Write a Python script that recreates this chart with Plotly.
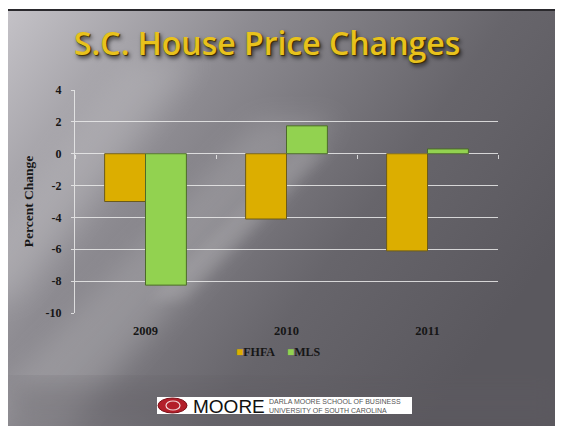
import base64
import plotly.graph_objects as go

# ---- data ----
years = ["2009", "2010", "2011"]
fhfa = [-3.0, -4.1, -6.1]
mls = [-8.25, 1.75, 0.3]
y_ticks = [-10, -8, -6, -4, -2, 0, 2, 4]
y_tick_labels = ["-10", "-8", "-6", "-4", "-2", "0", "2", "4"]
cat_bounds = [-0.5, 0.5, 1.5, 2.5]
title_text = "S.C. House Price Changes"
y_title = "Percent Change"
series_names = ["FHFA", "MLS"]
series_colors = ["#dcae00", "#92d250"]
series_edges = ["#6b5a1a", "#4c6a2a"]

# page body has an 8px margin; figure fills the rest of the window
W, H = 555, 418
L, R, T, B = 67, 65, 82, 113
pw, ph = W - L - R, H - T - B

svg = f'''<svg xmlns="http://www.w3.org/2000/svg" width="{W}" height="{H}" viewBox="0 0 {W} {H}">
<defs>
<linearGradient id="g" x1="0" y1="0" x2="1" y2="0.55">
<stop offset="0" stop-color="#c4c2c7"/>
<stop offset="0.35" stop-color="#8d8b91"/>
<stop offset="0.7" stop-color="#67656b"/>
<stop offset="1" stop-color="#5a585e"/>
</linearGradient>
<filter id="b"><feGaussianBlur stdDeviation="14"/></filter>
<filter id="b2"><feGaussianBlur stdDeviation="6"/></filter>
</defs>
<rect x="0" y="0" width="{W}" height="{H}" fill="#ffffff"/>
<rect x="0" y="1" width="{W}" height="{H}" fill="url(#g)"/>
<polygon points="-40,418 60,418 330,112 250,112" fill="#ffffff" opacity="0.16" filter="url(#b)"/>
<polygon points="-60,292 10,292 190,52 120,52" fill="#ffffff" opacity="0.14" filter="url(#b)"/>
<polygon points="142,292 177,292 322,142 292,142" fill="#ffffff" opacity="0.12" filter="url(#b2)"/>
<rect x="0" y="372" width="{W}" height="46" fill="#5e5c62" opacity="0.35" filter="url(#b)"/>
<line x1="0" y1="2" x2="{W}" y2="2" stroke="#2a292d" stroke-width="2"/>
</svg>'''
bg_src = "data:image/svg+xml;base64," + base64.b64encode(svg.encode()).decode()

serif = "Liberation Serif"
dark = "#161616"
grid = "rgba(235,235,235,0.85)"

fig = go.Figure()
fig.add_trace(go.Bar(name=series_names[0], x=years, y=fhfa, showlegend=False,
                     marker=dict(color=series_colors[0], line=dict(color=series_edges[0], width=1))))
fig.add_trace(go.Bar(name=series_names[1], x=years, y=mls, showlegend=False,
                     marker=dict(color=series_colors[1], line=dict(color=series_edges[1], width=1))))
# helper axis for category boundary tick marks on the zero line
fig.add_trace(go.Scatter(x=[None], y=[None], xaxis="x2", showlegend=False, hoverinfo="skip"))

fig.update_layout(
    width=W, height=H,
    margin=dict(l=L, r=R, t=T, b=B),
    paper_bgcolor="white",
    plot_bgcolor="rgba(0,0,0,0)",
    barmode="group", bargap=0.42, bargroupgap=0,
    showlegend=False,
    images=[dict(source=bg_src, xref="paper", yref="paper",
                 x=-L / pw, y=1 + T / ph, sizex=W / pw, sizey=H / ph,
                 xanchor="left", yanchor="top", sizing="stretch", layer="below")],
    xaxis=dict(showgrid=False, showline=False, ticks="", zeroline=False,
               range=[-0.5, 2.5],
               tickfont=dict(family=serif, size=12.5, color=dark, weight="bold"),
               ticklabelstandoff=8),
    xaxis2=dict(overlaying="x", anchor="free", position=10 / 14, side="bottom",
                type="linear", range=[-0.5, 2.5], tickvals=cat_bounds,
                showticklabels=False, ticks="outside", ticklen=4, tickwidth=1.3,
                tickcolor=grid, showgrid=False, zeroline=False, showline=False),
    yaxis=dict(range=[-10, 4], tickvals=y_ticks, ticktext=y_tick_labels, showgrid=True,
               gridcolor=grid, gridwidth=1.3,
               zeroline=True, zerolinecolor=grid, zerolinewidth=1.3,
               showline=True, linecolor=grid, linewidth=1.3,
               ticks="outside", ticklen=3, tickcolor=grid,
               tickfont=dict(family=serif, size=12, color=dark, weight="bold"),
               ticklabelstandoff=7,
               title=dict(text=y_title, font=dict(family=serif, size=13.5, color=dark, weight="bold"),
                          standoff=8)),
)

def px_x(x):
    return (x - L) / pw

def px_y(y):
    return 1 - (y - T) / ph

# compact legend: coloured squares followed by series names
legend_html = "&nbsp;&nbsp;&nbsp;&nbsp;".join(
    f"<span style='color:{c}'>■</span>{nm}" for nm, c in zip(series_names, series_colors))
fig.add_annotation(text=legend_html, xref="paper", yref="paper",
                   x=px_x(270), y=px_y(344), xanchor="center", yanchor="middle", showarrow=False,
                   font=dict(family=serif, size=12, color=dark, weight="bold"))

# title with shadow
fig.add_annotation(text=title_text, xref="paper", yref="paper",
                   x=px_x(259), y=px_y(34), xanchor="center", yanchor="middle",
                   showarrow=False,
                   font=dict(family="Open Sans", size=32, color="#e8c21c", weight=600,
                             shadow="1px 1px 1px #3a2c00, 2px 3px 4px rgba(0,0,0,0.7)"))

# logo strip
fig.add_shape(type="rect", xref="paper", yref="paper",
              x0=px_x(149), x1=px_x(404), y0=px_y(406), y1=px_y(389),
              fillcolor="white", line=dict(width=0), layer="above")
fig.add_shape(type="circle", xref="paper", yref="paper",
              x0=px_x(150), x1=px_x(179), y0=px_y(405), y1=px_y(390),
              fillcolor="#b31f2a", line=dict(color="#7a1018", width=1), layer="above")
fig.add_shape(type="circle", xref="paper", yref="paper",
              x0=px_x(158), x1=px_x(172), y0=px_y(402), y1=px_y(393),
              fillcolor="rgba(0,0,0,0)", line=dict(color="#f2d6d8", width=1.2), layer="above")
fig.add_annotation(text="MOORE", xref="paper", yref="paper", x=px_x(183), y=px_y(398),
                   xanchor="left", yanchor="middle", showarrow=False,
                   font=dict(family="Liberation Sans", size=19, color="#111111"))
fig.add_annotation(text="DARLA MOORE SCHOOL OF BUSINESS<br>UNIVERSITY OF SOUTH CAROLINA",
                   xref="paper", yref="paper", x=px_x(259), y=px_y(398),
                   xanchor="left", yanchor="middle", showarrow=False, align="left",
                   font=dict(family="Liberation Sans", size=7, color="#555555"))

fig.write_html("out.html")
